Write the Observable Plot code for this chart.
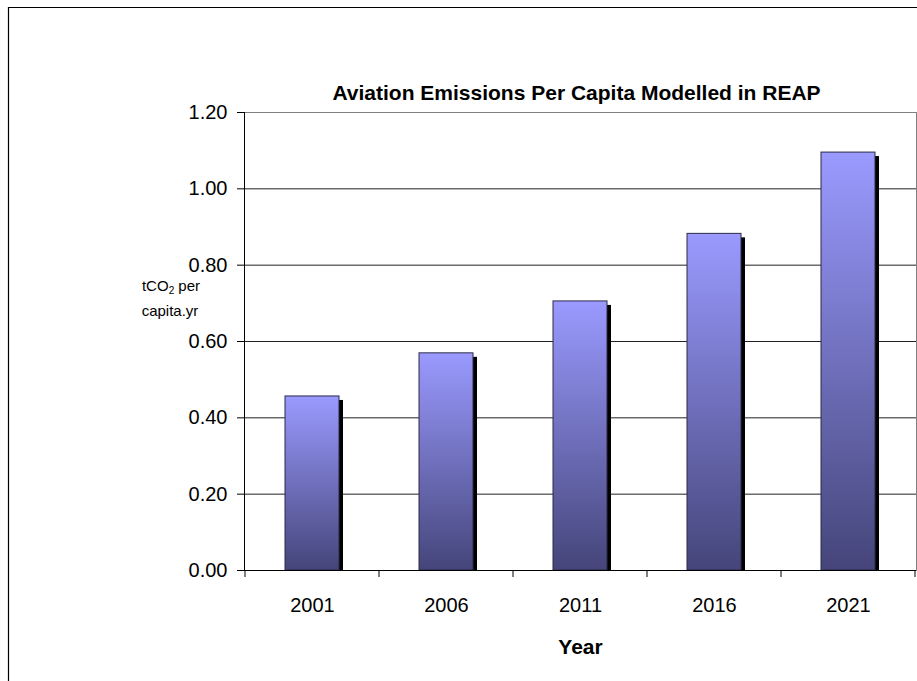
<!DOCTYPE html>
<html>
<head>
<meta charset="utf-8">
<script src="https://cdn.jsdelivr.net/npm/d3@7"></script>
<script src="https://cdn.jsdelivr.net/npm/@observablehq/plot@0.6"></script>
<style>
  html, body { margin: 0; padding: 0; background: #fff; }
  #chart { width: 917px; height: 681px; }
  svg { font-family: "Liberation Sans", Arial, sans-serif; }
</style>
</head>
<body>
<div id="chart"></div>
<script>
const years = ["2001", "2006", "2011", "2016", "2021"];
const emissions = [0.456, 0.569, 0.705, 0.882, 1.095];
const yTicks = [0, 0.2, 0.4, 0.6, 0.8, 1.0, 1.2];
const gridValues = [0.2, 0.4, 0.6, 0.8, 1.0];
const title = "Aviation Emissions Per Capita Modelled in REAP";
const xLabel = "Year";

const data = years.map((year, i) => ({year, value: emissions[i]}));

const plot = Plot.plot({
  width: 917,
  height: 681,
  marginTop: 112,
  marginBottom: 111,
  marginLeft: 244,
  marginRight: 1,
  style: {fontFamily: "'Liberation Sans', Arial, sans-serif", color: "#000", background: "#fff"},
  x: {domain: years, paddingInner: 0.6, paddingOuter: 0.3, label: null},
  y: {domain: [0, 1.2], ticks: yTicks, label: null},
  marks: [
    Plot.frame({stroke: "#808080"}),
    Plot.ruleY(gridValues, {stroke: "#222", strokeWidth: 1}),
    Plot.barY(data, {x: "year", y: "value", fill: "#000", dx: 4, dy: 4, insetBottom: 4}),
    Plot.barY(data, {x: "year", y: "value", fill: "url(#barGrad)", stroke: "#2b2b48", strokeWidth: 1}),
    Plot.ruleY([0], {stroke: "#000"}),
    Plot.frame({anchor: "left", stroke: "#000"}),
    Plot.axisY({ticks: yTicks, tickFormat: d3.format(".2f"), tickSize: 7, tickPadding: 10, fontSize: 20, stroke: "#000"}),
    Plot.axisX({tickSize: 0, tickPadding: 27, fontSize: 20, label: null}),
    Plot.text([title], {frameAnchor: "top", lineAnchor: "bottom", dy: -13, dx: -4, fontSize: 21, fontWeight: "bold"}),
    Plot.text([xLabel], {frameAnchor: "bottom", lineAnchor: "bottom", dy: 83, fontSize: 21, fontWeight: "bold"})
  ]
});

document.getElementById("chart").appendChild(plot);

const svg = d3.select(plot);

// gradient for bars
const defs = svg.insert("defs", ":first-child");
const grad = defs.append("linearGradient").attr("id", "barGrad")
  .attr("x1", 0).attr("y1", 0).attr("x2", 0).attr("y2", 1);
grad.append("stop").attr("offset", "0%").attr("stop-color", "#9a9aff");
grad.append("stop").attr("offset", "100%").attr("stop-color", "#45457a");

// x-axis boundary ticks between categories, from the band scale
const xs = plot.scale("x");
const gap = (xs.step - xs.bandwidth) / 2;
const bounds = years.map(y => xs.apply(y) - gap).concat([xs.apply(years[years.length - 1]) + xs.bandwidth + gap]);
const ys = plot.scale("y");
const y0 = ys.apply(0);
svg.append("g").attr("stroke", "#000")
  .selectAll("line").data(bounds).join("line")
  .attr("x1", d => d).attr("x2", d => d)
  .attr("y1", y0).attr("y2", y0 + 7);

// y-axis label with subscript
const lab = svg.append("g").attr("font-size", 15).attr("text-anchor", "middle").attr("fill", "#000");
const t1 = lab.append("text").attr("x", 171).attr("y", 291);
t1.append("tspan").text("tCO");
t1.append("tspan").attr("font-size", 10).attr("dy", 3).text("2");
t1.append("tspan").attr("dy", -3).text(" per");
lab.append("text").attr("x", 170).attr("y", 316).text("capita.yr");

// outer chart-area border (cut off at right and bottom)
svg.append("path").attr("d", "M8.5,681V7.5H917").attr("fill", "none").attr("stroke", "#000").attr("stroke-width", 1.2);
</script>
</body>
</html>
